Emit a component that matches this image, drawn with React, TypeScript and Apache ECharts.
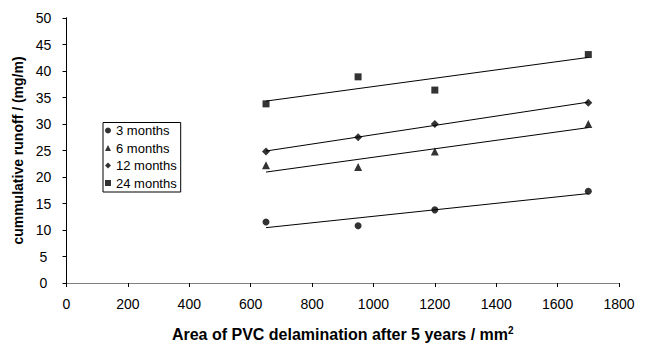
import React, { useEffect, useRef } from "react";
import * as echarts from "echarts";

const areas = [650, 950, 1200, 1700];
const seriesNames = ["3 months", "6 months", "12 months", "24 months"];
const runoff3 = [11.5, 10.8, 13.8, 17.3];
const runoff6 = [22.2, 21.9, 24.8, 30.0];
const runoff12 = [24.8, 27.5, 30.0, 34.0];
const runoff24 = [33.8, 38.9, 36.4, 43.1];
const symbols = ["circle", "triangle", "diamond", "rect"];
const symbolSizes = [7, 8, 8, 7];

function trend(xs: number[], ys: number[]) {
  const n = xs.length;
  const mx = xs.reduce((a, b) => a + b, 0) / n;
  const my = ys.reduce((a, b) => a + b, 0) / n;
  let sxy = 0, sxx = 0;
  for (let i = 0; i < n; i++) {
    sxy += (xs[i] - mx) * (ys[i] - my);
    sxx += (xs[i] - mx) * (xs[i] - mx);
  }
  const b = sxy / sxx;
  const a = my - b * mx;
  const x0 = Math.min(...xs), x1 = Math.max(...xs);
  return [[x0, a + b * x0], [x1, a + b * x1]];
}

export default function App() {
  const ref = useRef<HTMLDivElement>(null);
  useEffect(() => {
    if (!ref.current) return;
    const chart = echarts.init(ref.current, null, { renderer: "svg" });
    const all = [runoff3, runoff6, runoff12, runoff24];
    const font = "Liberation Sans, Arial, sans-serif";
    const series: any[] = [];
    all.forEach((ys) => {
      series.push({
        type: "line",
        data: trend(areas, ys),
        showSymbol: false,
        symbol: "none",
        lineStyle: { color: "#000", width: 1 },
        silent: true,
        z: 1,
      });
    });
    all.forEach((ys, i) => {
      series.push({
        name: seriesNames[i],
        type: "scatter",
        data: areas.map((x, j) => [x, ys[j]]),
        symbol: symbols[i],
        symbolSize: symbolSizes[i],
        itemStyle: { color: "#000" },
        z: 3,
      });
    });
    chart.setOption({
      animation: false,
      textStyle: { fontFamily: font },
      grid: { left: 66.5, right: 27, top: 18, bottom: 61, containLabel: false },
      legend: {
        data: seriesNames.map((n, i) => ({ name: n, icon: symbols[i] })),
        orient: "vertical",
        left: 103,
        top: 122.5,
        itemWidth: 6,
        itemHeight: 6,
        itemGap: 3.5,
        padding: [1, 4, 2, 2],
        borderColor: "#000",
        borderWidth: 1,
        textStyle: { fontSize: 13, lineHeight: 14, color: "#000", fontFamily: font },
      },
      xAxis: [
        {
          type: "value",
          min: 0,
          max: 1800,
          interval: 200,
          position: "bottom",
          axisLine: { show: true, lineStyle: { color: "#000" } },
          axisTick: { show: true, inside: false, length: 4, lineStyle: { color: "#000" } },
          axisLabel: {
            fontSize: 14,
            color: "#000",
            margin: 14,
            fontFamily: font,
            formatter: (v: number) => String(v),
          },
          splitLine: { show: false },
          name: "Area of PVC delamination after 5 years / mm{sup|2}",
          nameLocation: "middle",
          nameGap: 42,
          nameTextStyle: {
            fontSize: 16,
            fontWeight: "bold",
            color: "#000",
            fontFamily: font,
            rich: { sup: { fontSize: 10, fontWeight: "bold", verticalAlign: "top", padding: [0, 0, 8, 0] } },
          },
        },
        {
          type: "value",
          min: 0,
          max: 1800,
          position: "top",
          axisLine: { show: true, lineStyle: { color: "#808080" } },
          axisTick: { show: false },
          axisLabel: { show: false },
          splitLine: { show: false },
        },
      ],
      yAxis: [
        {
          type: "value",
          min: 0,
          max: 50,
          interval: 5,
          position: "left",
          axisLine: { show: true, lineStyle: { color: "#000" } },
          axisTick: { show: true, inside: false, length: 4, lineStyle: { color: "#000" } },
          axisLabel: { fontSize: 14, color: "#000", margin: 23, align: "center", fontFamily: font },
          splitLine: { show: false },
          name: "cummulative runoff / (mg/m)",
          nameLocation: "middle",
          nameGap: 34.5,
          nameTextStyle: { fontSize: 14, fontWeight: "bold", color: "#000", fontFamily: font },
        },
        {
          type: "value",
          min: 0,
          max: 50,
          position: "right",
          axisLine: { show: true, lineStyle: { color: "#000" } },
          axisTick: { show: false },
          axisLabel: { show: false },
          splitLine: { show: false },
        },
      ],
      series,
    });
    return () => chart.dispose();
  }, []);
  return (
    <div
      ref={ref}
      style={{ position: "fixed", left: 0, top: 0, width: 646, height: 347, background: "#fff" }}
    />
  );
}
